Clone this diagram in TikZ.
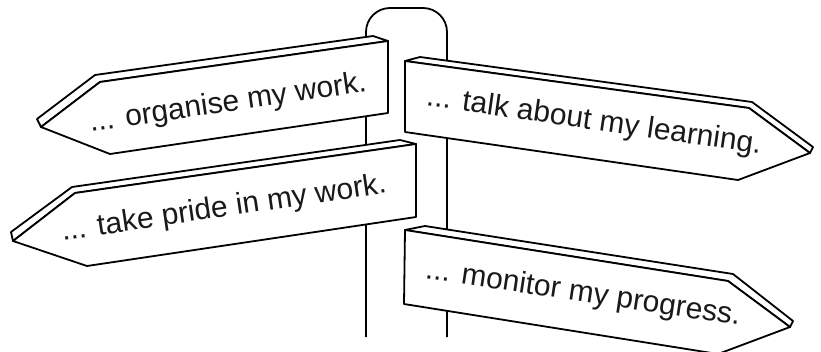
\documentclass[tikz,border=0pt]{standalone}
\usepackage{fontspec}
\setmainfont{Liberation Sans}
\usepackage{tikz}

\tikzset{
  board/.style={draw, fill=white, line width=1.8pt, line join=round},
  signtext/.style={inner sep=0pt, text=black!90, font=\fontsize{30}{34}\selectfont}
}

\begin{document}
\begin{tikzpicture}[x=1pt,y=-1pt]
    \useasboundingbox (0,0) rectangle (821,351);

    % draw post
    \draw[line width=1.8pt, rounded corners=24pt] (366,337) -- (366,8) -- (447,8) -- (447,337);

    % draw left signs
    \draw[board] (41,127) -- (100,82) -- (388,41) -- (373,36) -- (95,75) -- (37,119) -- cycle;
    \draw[board] (388,41) -- (100,82) -- (41,127) -- (110,154) -- (388,113) -- cycle;
    \draw[board] (13,241) -- (75,193) -- (416,144) -- (400,140) -- (72,187) -- (11,232) -- cycle;
    \draw[board] (416,144) -- (75,193) -- (13,241) -- (87,266) -- (416,217) -- cycle;

    % draw right signs
    \draw[board] (405,61) -- (420,57) -- (752,102) -- (813,147) -- (810,153) -- (749,108) -- cycle;
    \draw[board] (405,61) -- (749,108) -- (810,153) -- (738,180) -- (405,132) -- cycle;
    \draw[board] (405,230) -- (425,226) -- (733,274) -- (793,321) -- (790,327) -- (728,281) -- cycle;
    \draw[board] (405,230) -- (728,281) -- (790,327) -- (718,354) -- (404,304) -- cycle;

    % draw texts
    \node[signtext, rotate=8.3] (organise) at (228,104) {... organise my work.};
    \node[signtext, rotate=8.4] (pride) at (224,209) {... take pride in my work.};
    \node[signtext, rotate=-8.2] (talk) at (594,122) {... talk about my learning.};
    \node[signtext, rotate=-8.5] (monitor) at (583,294) {... monitor my progress.};

\end{tikzpicture}
\end{document}
